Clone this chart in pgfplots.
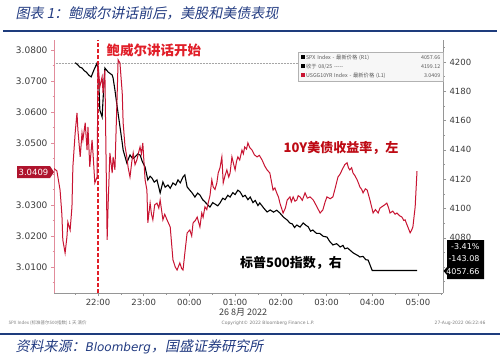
\documentclass[border=0pt]{standalone}
\usepackage{fontspec}
\setmainfont{DejaVu Sans}
\newfontfamily\cjk{Noto Sans CJK SC}
\newfontfamily\cjkit[FakeSlant=0.2]{Noto Sans CJK SC}
\usepackage{pgfplots}
\pgfplotsset{compat=1.18}
\definecolor{ttlblue}{RGB}{35,60,130}
\definecolor{rulebl}{RGB}{30,60,125}
\definecolor{yld}{RGB}{200,20,50}
\definecolor{dashr}{RGB}{225,30,40}
\definecolor{annred}{RGB}{190,10,20}
\definecolor{pinkax}{RGB}{225,140,155}
\definecolor{axgray}{RGB}{150,150,150}
\definecolor{lblgray}{RGB}{60,60,60}
\definecolor{boxred}{RGB}{175,20,45}

\pgfplotstableread{
h v
0.50 4199.5
0.56 4198.0
0.60 4196.5
0.65 4195.9
0.70 4194.0
0.74 4193.2
0.80 4191.0
0.85 4189.8
0.91 4194.5
0.98 4199.3
1.00 4194.5
1.02 4184.3
1.04 4167.2
1.09 4162.5
1.11 4174.1
1.15 4195.9
1.22 4193.2
1.31 4191.1
1.33 4189.1
1.37 4180.9
1.42 4169.3
1.46 4160.4
1.53 4144.7
1.55 4139.9
1.63 4131.1
1.70 4136.5
1.76 4134.0
1.81 4135.2
1.87 4137.2
1.92 4136.5
1.97 4132.0
2.03 4128.3
2.09 4119.5
2.14 4122.0
2.18 4120.8
2.23 4118.0
2.29 4119.5
2.36 4110.6
2.42 4118.1
2.47 4114.5
2.53 4116.0
2.58 4113.8
2.64 4117.4
2.70 4116.0
2.75 4119.5
2.80 4117.5
2.86 4121.5
2.90 4122.9
2.95 4114.7
3.00 4112.8
3.06 4110.6
3.12 4107.8
3.18 4110.5
3.23 4109.2
3.29 4106.0
3.34 4104.5
3.40 4102.5
3.45 4101.0
3.51 4104.0
3.56 4103.0
3.62 4101.8
3.67 4103.8
3.73 4107.0
3.78 4106.0
3.84 4109.0
3.89 4107.8
3.95 4110.8
4.00 4109.5
4.06 4112.5
4.11 4111.3
4.17 4108.0
4.22 4109.0
4.28 4106.0
4.33 4107.8
4.39 4104.0
4.44 4105.5
4.50 4102.0
4.54 4103.8
4.62 4100.5
4.70 4097.6
4.77 4099.0
4.84 4097.5
4.91 4098.8
4.98 4096.9
5.06 4094.0
5.14 4092.1
5.20 4090.0
5.25 4089.5
5.30 4087.0
5.35 4088.7
5.42 4087.3
5.49 4090.1
5.55 4088.5
5.60 4087.5
5.65 4084.5
5.70 4085.3
5.78 4083.0
5.85 4083.0
5.93 4081.0
6.01 4080.5
6.07 4077.5
6.14 4075.1
6.22 4076.0
6.30 4073.7
6.36 4074.8
6.40 4072.5
6.46 4073.0
6.51 4071.7
6.57 4070.0
6.62 4069.0
6.68 4068.0
6.73 4066.9
6.80 4067.3
6.86 4065.0
6.91 4064.8
7.00 4057.66
7.98 4057.66
}\spxdata

\pgfplotstableread{
h y
0.02 3.0419
0.10 3.0410
0.17 3.0348
0.21 3.0268
0.23 3.0187
0.28 3.0145
0.32 3.0197
0.34 3.0245
0.39 3.0219
0.43 3.0294
0.45 3.0423
0.50 3.0532
0.54 3.0597
0.56 3.0542
0.61 3.0455
0.65 3.0532
0.67 3.0510
0.72 3.0565
0.76 3.0477
0.78 3.0552
0.82 3.0423
0.87 3.0510
0.89 3.0468
0.93 3.0371
0.98 3.0390
1.00 3.0758
1.04 3.0681
1.09 3.0713
1.11 3.0661
1.15 3.0735
1.20 3.0187
1.22 3.0294
1.26 3.0468
1.31 3.0403
1.33 3.0455
1.37 3.0413
1.42 3.0661
1.44 3.0768
1.48 3.0758
1.53 3.0661
1.55 3.0565
1.59 3.0490
1.63 3.0455
1.66 3.0420
1.70 3.0390
1.74 3.0440
1.77 3.0468
1.81 3.0430
1.85 3.0445
1.89 3.0470
1.92 3.0487
1.95 3.0465
1.98 3.0500
2.03 3.0381
2.07 3.0348
2.09 3.0242
2.14 3.0306
2.17 3.0270
2.20 3.0252
2.24 3.0300
2.29 3.0306
2.33 3.0290
2.36 3.0316
2.42 3.0252
2.46 3.0270
2.51 3.0252
2.58 3.0229
2.64 3.0123
2.69 3.0100
2.73 3.0090
2.79 3.0113
2.83 3.0095
2.86 3.0090
2.90 3.0145
2.95 3.0210
3.01 3.0219
3.05 3.0200
3.08 3.0242
3.13 3.0250
3.17 3.0261
3.23 3.0229
3.27 3.0274
3.30 3.0260
3.34 3.0294
3.38 3.0285
3.41 3.0306
3.45 3.0330
3.49 3.0381
3.52 3.0358
3.56 3.0350
3.60 3.0371
3.63 3.0403
3.67 3.0420
3.71 3.0455
3.74 3.0371
3.78 3.0395
3.82 3.0413
3.86 3.0390
3.89 3.0403
3.93 3.0455
3.97 3.0430
4.00 3.0413
4.03 3.0440
4.06 3.0455
4.10 3.0445
4.15 3.0477
4.18 3.0465
4.21 3.0487
4.25 3.0480
4.28 3.0500
4.32 3.0485
4.37 3.0477
4.42 3.0462
4.48 3.0455
4.53 3.0460
4.59 3.0445
4.65 3.0425
4.70 3.0413
4.76 3.0403
4.83 3.0348
4.87 3.0355
4.91 3.0339
4.95 3.0325
4.98 3.0306
5.05 3.0274
5.10 3.0290
5.14 3.0316
5.20 3.0326
5.23 3.0310
5.27 3.0326
5.31 3.0312
5.35 3.0316
5.38 3.0330
5.42 3.0326
5.47 3.0315
5.53 3.0339
5.58 3.0322
5.64 3.0326
5.71 3.0316
5.75 3.0305
5.79 3.0294
5.86 3.0274
5.92 3.0284
5.97 3.0310
6.01 3.0326
6.08 3.0320
6.14 3.0326
6.20 3.0360
6.25 3.0390
6.30 3.0400
6.34 3.0413
6.40 3.0430
6.45 3.0436
6.48 3.0420
6.51 3.0413
6.55 3.0420
6.58 3.0403
6.62 3.0395
6.67 3.0381
6.70 3.0370
6.73 3.0358
6.77 3.0350
6.80 3.0339
6.85 3.0352
6.89 3.0348
6.95 3.0316
7.02 3.0274
7.07 3.0285
7.13 3.0274
7.17 3.0290
7.21 3.0294
7.27 3.0300
7.32 3.0306
7.36 3.0290
7.39 3.0274
7.45 3.0280
7.50 3.0270
7.54 3.0274
7.60 3.0265
7.65 3.0261
7.69 3.0250
7.72 3.0252
7.75 3.0240
7.78 3.0229
7.83 3.0210
7.86 3.0218
7.89 3.0229
7.94 3.0294
7.98 3.0409
}\ylddata

\begin{document}
\begin{tikzpicture}[x=1pt,y=1pt]
\useasboundingbox (0,0) rectangle (500,357);
\fill[white] (0,0) rectangle (500,357);

% ---------- right axis: S&P 500 ----------
\begin{axis}[
  at={(54pt,64pt)}, anchor=south west, scale only axis,
  width=389pt, height=253pt,
  xmin=0.037, xmax=8.549, ymin=4042.3, ymax=4215.0,
  axis x line=none, axis y line*=right,
  y axis line style={axgray, line width=0.6pt},
  ytick={4080,4100,...,4200}, minor ytick={4050,4060,4070,4090,4110,4130,4150,4170,4190,4210},
  tick align=outside, major tick length=3pt, minor tick length=1.5pt,
  every tick/.style={axgray, line width=0.5pt},
  yticklabel style={font=\fontsize{8.5}{10}\selectfont, text=lblgray},
  /pgf/number format/.cd, 1000 sep={}, assume math mode=true,
]
\addplot[gray!70, line width=0.5pt, densely dotted] coordinates {(0.037,4199.12) (8.549,4199.12)};
\addplot[black, line width=1.1pt] table[x=h, y=v] {\spxdata};
\end{axis}

% ---------- left axis: US 10Y ----------
\begin{axis}[
  at={(54pt,64pt)}, anchor=south west, scale only axis,
  width=389pt, height=253pt,
  xmin=0.037, xmax=8.549, ymin=3.0016, ymax=3.0832,
  axis x line*=bottom, axis y line*=left,
  x axis line style={axgray, line width=0.6pt},
  y axis line style={pinkax, line width=0.6pt},
  xtick={1,2,3,4,5,6,7,8},
  xticklabels={22:00,23:00,00:00,01:00,02:00,03:00,04:00,05:00},
  minor xtick={0.5,1.5,2.5,3.5,4.5,5.5,6.5,7.5,8.5},
  ytick={3.01,3.02,3.03,3.05,3.06,3.07,3.08},
  minor ytick={3.005,3.015,3.025,3.035,3.04,3.045,3.055,3.065,3.075},
  tick align=outside, major tick length=3pt, minor tick length=1.5pt,
  x tick style={axgray, line width=0.5pt},
  y tick style={pinkax, line width=0.5pt},
  xticklabel style={font=\fontsize{8.5}{10}\selectfont, text=lblgray},
  yticklabel style={font=\fontsize{9}{10}\selectfont, text=lblgray,
    /pgf/number format/.cd, fixed, fixed zerofill, precision=4},
  /pgf/number format/assume math mode=true,
]
\addplot[dashr, line width=1.7pt, dash pattern=on 4pt off 2pt] coordinates {(1,3.0016) (1,3.0832)};
\addplot[yld, line width=1.0pt] table[x=h, y=y] {\ylddata};
\end{axis}

% ---------- legend box ----------
\node[anchor=north west, draw=gray!60, fill=gray!6, inner xsep=3pt, inner ysep=2.5pt,
      text width=139pt, align=left, text=black!65,
      font=\cjk\fontsize{5.3}{9}\selectfont] at (298,305)
 {{\color{black}\rule{4pt}{4pt}}\,SPX Index - 最新价格 (R1)\hfill 4057.66\\
  {\color{black}\rule{4pt}{4pt}}\,收于 08/25 -----\hfill 4199.12\\
  {\color{yld}\rule{4pt}{4pt}}\,USGG10YR Index - 最新价格 (L1)\hfill 3.0409};

% ---------- value tags ----------
\fill[boxred] (17,179) -- (50,179) -- (54,185) -- (50,191) -- (17,191) -- cycle;
\node[text=white, font=\fontsize{8.5}{10}\selectfont] at (33.5,185) {3.0409};
\fill[black] (443.5,86) -- (447,90) -- (447,117) -- (484,117) -- (484,78) -- (447,78) -- (447,82) -- cycle;
\node[anchor=east, text=white, font=\fontsize{8}{9}\selectfont] at (483,110) {-3.41\%};
\node[anchor=east, text=white, font=\fontsize{8}{9}\selectfont] at (483,98) {-143.08};
\node[anchor=east, text=white, font=\fontsize{8}{9}\selectfont] at (483,85.5) {4057.66};

% ---------- annotations ----------
\node[anchor=west, text=dashr, font=\cjk\bfseries\fontsize{13.5}{15}\selectfont] at (103,307) {鲍威尔讲话开始};
\node[text=annred, font=\cjk\bfseries\fontsize{13}{15}\selectfont] at (341,209) {10Y美债收益率，左};
\node[text=black, font=\cjk\bfseries\fontsize{13}{15}\selectfont] at (291,94) {标普500指数，右};

% ---------- x date ----------
\node[text=lblgray, font=\cjk\fontsize{9}{10}\selectfont] at (243,45) {26 8月 2022};

% ---------- footer small ----------
\node[anchor=west, text=gray, font=\cjk\fontsize{4.5}{5}\selectfont] at (5,34) {SPX Index (标准普尔500指数) 1 天 滴价};
\node[text=gray, font=\fontsize{4.5}{5}\selectfont] at (268,34) {Copyright\textcopyright{} 2022 Bloomberg Finance L.P.};
\node[anchor=east, text=gray, font=\fontsize{4.5}{5}\selectfont] at (489,34) {27-Aug-2022 06:22:46};

% ---------- title and rules ----------
\node[anchor=west, text=ttlblue, font=\cjkit\fontsize{14}{16}\selectfont] at (12,344) {图表 1：鲍威尔讲话前后，美股和美债表现};
\draw[rulebl, line width=2.5pt] (3,326) -- (497,326);
\draw[rulebl, line width=1.6pt] (0,23) -- (500,23);
\node[anchor=west, text=ttlblue, font=\cjkit\fontsize{14}{16}\selectfont] at (12,10) {资料来源：{\fontspec{DejaVu Sans}\itshape\fontsize{12}{14}\selectfont Bloomberg}，国盛证券研究所};
\end{tikzpicture}
\end{document}
